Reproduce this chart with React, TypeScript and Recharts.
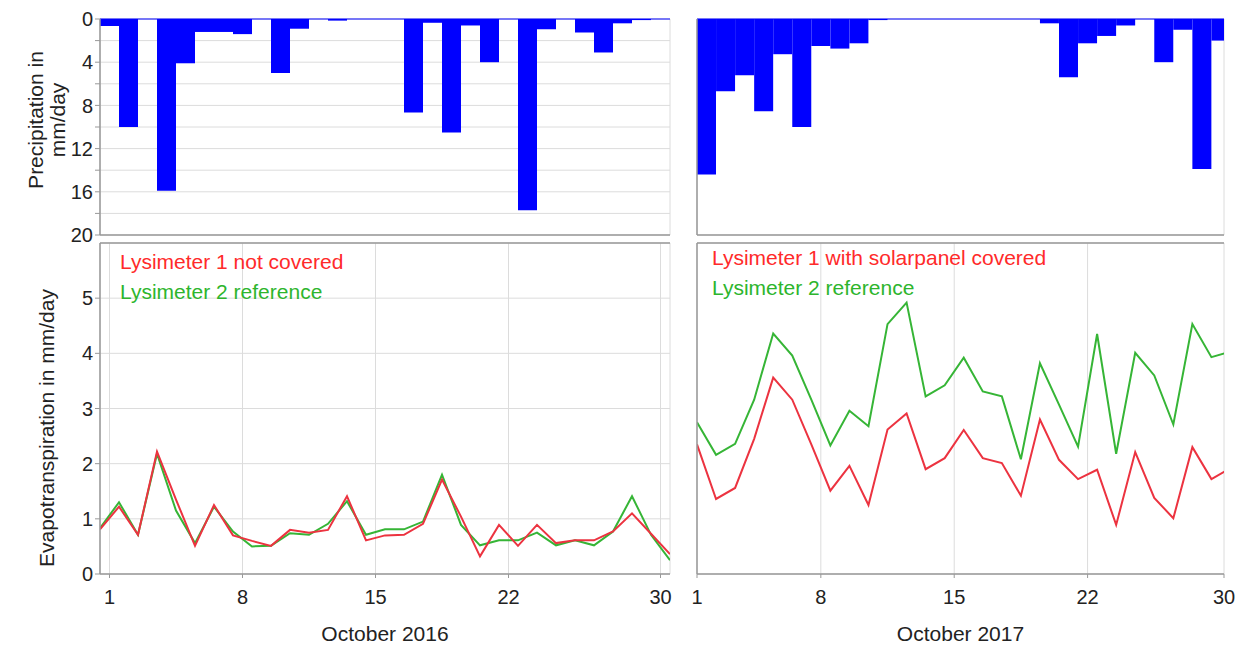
import React from 'react';
import {
  BarChart,
  LineChart,
  Bar,
  Line,
  XAxis,
  YAxis,
  CartesianGrid,
  ReferenceLine,
} from 'recharts';

// ---------- data ----------
const days2016 = [
  1, 2, 3, 4, 5, 6, 7, 8, 9, 10, 11, 12, 13, 14, 15, 16, 17, 18, 19, 20, 21, 22, 23, 24, 25, 26, 27, 28, 29, 30, 31,
];
const precip2016 = [
  0.65, 10.0, 0, 15.9, 4.1, 1.2, 1.2, 1.4, 0, 5.0, 0.9, 0, 0.15, 0, 0, 0, 8.65, 0.35, 10.5, 0.6, 4.0, 0, 17.7, 0.95, 0,
  1.25, 3.1, 0.4, 0.1, 0, 1.3,
];
const et2016Lys1 = [
  0.81, 1.22, 0.71, 2.22, 1.35, 0.51, 1.25, 0.7, 0.6, 0.51, 0.8, 0.75, 0.8, 1.41, 0.61, 0.7, 0.71, 0.91, 1.71, 1.04, 0.32,
  0.89, 0.51, 0.89, 0.56, 0.61, 0.61, 0.77, 1.1, 0.73, 0.36,
];
const et2016Lys2 = [
  0.83, 1.3, 0.71, 2.18, 1.15, 0.56, 1.22, 0.77, 0.5, 0.51, 0.74, 0.71, 0.91, 1.32, 0.71, 0.81, 0.81, 0.95, 1.8, 0.89, 0.52,
  0.61, 0.61, 0.75, 0.52, 0.61, 0.52, 0.77, 1.41, 0.71, 0.25,
];

const precipDays2017 = [
  2, 3, 4, 5, 6, 7, 8, 9, 10, 11, 12, 13, 14, 15, 16, 17, 18, 19, 20, 21, 22, 23, 24, 25, 26, 27, 28, 29,
];
const precip2017 = [
  14.4, 6.7, 5.2, 8.55, 3.26, 10.0, 2.5, 2.74, 2.25, 0.1, 0, 0, 0, 0, 0, 0, 0, 0, 0.4, 5.4, 2.25, 1.57, 0.6, 0, 4.0, 1.0,
  13.9, 2.0,
];
const etDays2017 = [
  2, 3, 4, 5, 6, 7, 8, 9, 10, 11, 12, 13, 14, 15, 16, 17, 18, 19, 20, 21, 22, 23, 24, 25, 26, 27, 28, 29, 30,
];
const et2017Lys1 = [
  2.35, 1.36, 1.56, 2.45, 3.56, 3.16, 2.35, 1.51, 1.96, 1.25, 2.62, 2.91, 1.9, 2.1, 2.61, 2.1, 2.01, 1.42, 2.8, 2.07, 1.72,
  1.89, 0.89, 2.21, 1.38, 1.01, 2.3, 1.72, 1.92,
];
const et2017Lys2 = [
  2.75, 2.16, 2.36, 3.16, 4.36, 3.96, 3.16, 2.33, 2.96, 2.68, 4.53, 4.92, 3.22, 3.42, 3.92, 3.31, 3.22, 2.08, 3.82, 3.07,
  2.31, 4.35, 2.18, 4.01, 3.6, 2.71, 4.53, 3.93, 4.03,
];

const tickDays = [1, 8, 15, 22, 30];
const tickLabels = ['1', '8', '15', '22', '30'];
const precipTicks = [0, 2, 4, 6, 8, 10, 12, 14, 16, 18, 20];
const etTicks = [0, 1, 2, 3, 4, 5];

const legend2016 = ['Lysimeter 1 not covered', 'Lysimeter 2 reference'];
const legend2017 = ['Lysimeter 1 with solarpanel covered', 'Lysimeter 2 reference'];

// ---------- tables (x = days since 1 Oct 00:00) ----------
const precipTable2016 = days2016.map((d, i) => ({ x: d - 0.5, p: precip2016[i] }));
const etTable2016 = days2016.map((d, i) => ({ x: d - 1, l1: et2016Lys1[i], l2: et2016Lys2[i] }));
const precipTable2017 = precipDays2017.map((d, i) => ({ x: d - 0.5, p: precip2017[i] }));
const etTable2017 = etDays2017.map((d, i) => ({ x: d - 1, l1: et2017Lys1[i], l2: et2017Lys2[i] }));

const domain2016: [number, number] = [0, 30];
const domain2017: [number, number] = [1, 28.66];
const clampTicks = (dom: [number, number]) =>
  tickDays.map((d) => Math.min(Math.max(d - 0.5, dom[0]), dom[1]));
const ticks2016 = clampTicks(domain2016);
const ticks2017 = clampTicks(domain2017);

// ---------- style ----------
const FONT = '"Liberation Sans", Arial, Helvetica, sans-serif';
const TEXT = '#222';
const AXIS = '#999';
const GRID = '#dcdcdc';
const BLUE = '#0000ff';
const RED_LINE = '#ec3340';
const GREEN_LINE = '#36b536';
const RED_TEXT = '#ff2a2a';
const GREEN_TEXT = '#2db52d';
const FS = 20;

const tickStyle = { fill: TEXT, fontSize: FS, fontFamily: FONT };

function PrecipChart({ data, domain, ticks, width, showLabels, left }: any) {
  return (
    <div style={{ position: 'absolute', left, top: 0 }}>
      <BarChart
        width={width}
        height={252}
        data={data}
        margin={{ top: 19, right: showLabels ? 10 : 17, bottom: 16, left: 0 }}
        barCategoryGap={0}
        barGap={0}
      >
        <CartesianGrid stroke={GRID} />
        <XAxis
          type="number"
          dataKey="x"
          domain={domain}
          allowDataOverflow
          ticks={ticks}
          interval={0}
          tick={false}
          tickLine={false}
          height={1}
          axisLine={{ stroke: AXIS, strokeWidth: 1.5 }}
        />
        <YAxis
          type="number"
          reversed
          domain={[0, 20]}
          allowDataOverflow
          ticks={precipTicks}
          interval={0}
          width={showLabels ? 100 : 17}
          tick={showLabels ? tickStyle : false}
          tickFormatter={(v: number) => (v % 4 === 0 ? String(v) : '')}
          tickSize={5}
          tickLine={{ stroke: AXIS }}
          axisLine={{ stroke: AXIS, strokeWidth: 1.5 }}
        />
        <ReferenceLine y={0} stroke={BLUE} strokeWidth={1} />
        <Bar dataKey="p" fill={BLUE} isAnimationActive={false} />
      </BarChart>
    </div>
  );
}

function EtChart({ data, domain, ticks, width, showLabels, left, title }: any) {
  return (
    <div style={{ position: 'absolute', left, top: 238 }}>
      <LineChart
        width={width}
        height={409}
        data={data}
        margin={{ top: 5, right: showLabels ? 10 : 17, bottom: 0, left: 0 }}
      >
        <CartesianGrid stroke={GRID} />
        <XAxis
          type="number"
          dataKey="x"
          domain={domain}
          allowDataOverflow
          ticks={ticks}
          interval={0}
          tickFormatter={(_v: number, i: number) => tickLabels[i]}
          tick={tickStyle}
          tickSize={4}
          tickMargin={12}
          tickLine={{ stroke: AXIS }}
          axisLine={{ stroke: AXIS, strokeWidth: 1.5 }}
          height={73}
          label={{
            value: title,
            position: 'insideBottom',
            offset: 6,
            style: { fill: TEXT, fontSize: FS + 1, fontFamily: FONT },
          }}
        />
        <YAxis
          type="number"
          domain={[0, 6]}
          allowDataOverflow
          ticks={etTicks}
          interval={0}
          width={showLabels ? 100 : 17}
          tick={showLabels ? tickStyle : false}
          tickSize={5}
          tickLine={{ stroke: AXIS }}
          axisLine={{ stroke: AXIS, strokeWidth: 1.5 }}
        />
        <ReferenceLine y={6} stroke={AXIS} strokeWidth={1.5} />
        <Line
          type="linear"
          dataKey="l2"
          stroke={GREEN_LINE}
          strokeWidth={2}
          dot={false}
          isAnimationActive={false}
        />
        <Line
          type="linear"
          dataKey="l1"
          stroke={RED_LINE}
          strokeWidth={2}
          dot={false}
          isAnimationActive={false}
        />
      </LineChart>
    </div>
  );
}

const legendText = (text: string, color: string, left: number, top: number) => (
  <div
    style={{
      position: 'absolute',
      left,
      top,
      color,
      fontFamily: FONT,
      fontSize: FS + 1,
      lineHeight: '24px',
      whiteSpace: 'nowrap',
    }}
  >
    {text}
  </div>
);

export default function App() {
  return (
    <div
      style={{
        position: 'absolute',
        left: 0,
        top: 0,
        width: 1241,
        height: 647,
        background: '#fff',
        overflow: 'hidden',
        fontFamily: FONT,
      }}
    >
      <EtChart
        data={etTable2016}
        domain={domain2016}
        ticks={ticks2016}
        width={680}
        showLabels
        left={0}
        title="October 2016"
      />
      <EtChart
        data={etTable2017}
        domain={domain2017}
        ticks={ticks2017}
        width={561}
        showLabels={false}
        left={680}
        title="October 2017"
      />
      <PrecipChart data={precipTable2016} domain={domain2016} ticks={ticks2016} width={680} showLabels left={0} />
      <PrecipChart data={precipTable2017} domain={domain2017} ticks={ticks2017} width={561} showLabels={false} left={680} />

      {/* y-axis titles */}
      <div
        style={{
          position: 'absolute',
          left: 47,
          top: 120,
          transform: 'translate(-50%, -50%) rotate(-90deg)',
          whiteSpace: 'nowrap',
          textAlign: 'center',
          fontSize: FS + 1,
          lineHeight: '22px',
          color: TEXT,
        }}
      >
        Precipitation in
        <br />
        mm/day
      </div>
      <div
        style={{
          position: 'absolute',
          left: 47,
          top: 428,
          transform: 'translate(-50%, -50%) rotate(-90deg)',
          whiteSpace: 'nowrap',
          fontSize: FS + 1,
          lineHeight: '22px',
          color: TEXT,
        }}
      >
        Evapotranspiration in mm/day
      </div>

      {/* legends */}
      {legendText(legend2016[0], RED_TEXT, 120, 250)}
      {legendText(legend2016[1], GREEN_TEXT, 120, 280)}
      {legendText(legend2017[0], RED_TEXT, 712, 246)}
      {legendText(legend2017[1], GREEN_TEXT, 712, 276)}
    </div>
  );
}
